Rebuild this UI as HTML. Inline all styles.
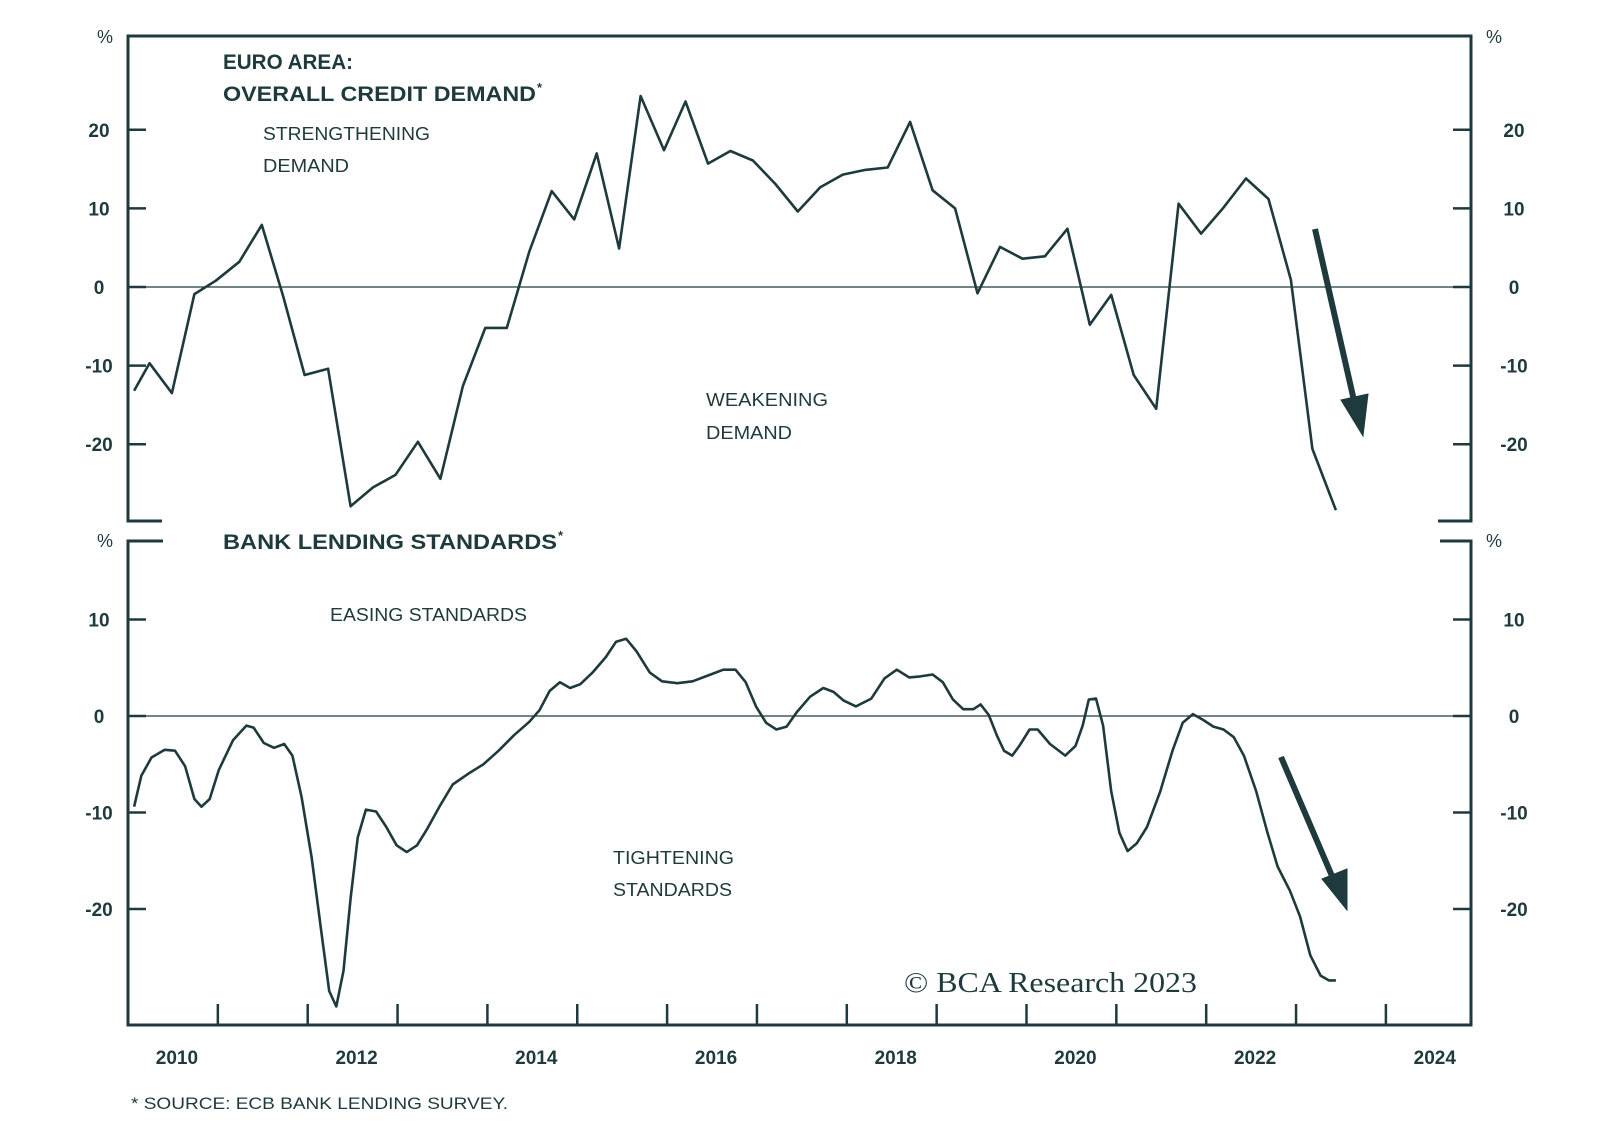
<!DOCTYPE html>
<html><head><meta charset="utf-8"><style>
html,body{margin:0;padding:0;background:#fff;}
svg{display:block;}
text{font-family:"Liberation Sans",sans-serif;fill:#1e3a3c;}
</style></head><body>
<svg id="chart" width="1600" height="1146" viewBox="0 0 1600 1146" xmlns="http://www.w3.org/2000/svg">
<g id="frame" stroke="#1e3a3c" stroke-width="3" fill="none">
  <path d="M162 521 H128 V36 H1471 V521 H1438"/>
  <path d="M163 541 H128 V1025 H1471 V541 H1440"/>
</g>
<g id="ticks" stroke="#1e3a3c" stroke-width="2.5"></g>
<g id="labels"></g>
<g id="series"></g>

<g font-weight="bold">
<text x="223" y="69" font-size="21" textLength="130" lengthAdjust="spacingAndGlyphs">EURO AREA:</text>
<text x="223" y="101" font-size="21" textLength="313" lengthAdjust="spacingAndGlyphs">OVERALL CREDIT DEMAND</text>
<text x="537" y="92" font-size="13">*</text>
<text x="263" y="140" font-size="18" font-weight="normal" textLength="167" lengthAdjust="spacingAndGlyphs">STRENGTHENING</text>
<text x="263" y="172" font-size="18" font-weight="normal" textLength="86" lengthAdjust="spacingAndGlyphs">DEMAND</text>
<text x="706" y="406" font-size="18" font-weight="normal" textLength="122" lengthAdjust="spacingAndGlyphs">WEAKENING</text>
<text x="706" y="439" font-size="18" font-weight="normal" textLength="86" lengthAdjust="spacingAndGlyphs">DEMAND</text>
<text x="223" y="549" font-size="21" textLength="334" lengthAdjust="spacingAndGlyphs">BANK LENDING STANDARDS</text>
<text x="558" y="540" font-size="13">*</text>
<text x="330" y="621" font-size="18" font-weight="normal" textLength="197" lengthAdjust="spacingAndGlyphs">EASING STANDARDS</text>
<text x="613" y="864" font-size="18" font-weight="normal" textLength="121" lengthAdjust="spacingAndGlyphs">TIGHTENING</text>
<text x="613" y="896" font-size="18" font-weight="normal" textLength="119" lengthAdjust="spacingAndGlyphs">STANDARDS</text>
<text x="131" y="1109" font-size="17" font-weight="normal" textLength="377" lengthAdjust="spacingAndGlyphs">* SOURCE: ECB BANK LENDING SURVEY.</text>
<text x="904" y="992" font-size="28" font-weight="normal" style="font-family:'Liberation Serif',serif" textLength="293" lengthAdjust="spacingAndGlyphs">© BCA Research 2023</text>
</g>
<g fill="#1e3a3c" stroke="#1e3a3c">
  <line x1="1315" y1="229" x2="1355" y2="405" stroke-width="6"/>
  <polygon points="1363,436 1341,400 1368,394"/>
  <line x1="1281" y1="757" x2="1335" y2="883" stroke-width="6"/>
  <polygon points="1347,910 1322,879 1347,869"/>
</g>
</svg>
<script>
const topDates=[2010.068,2010.239,2010.489,2010.739,2010.977,2011.239,2011.489,2011.727,2011.966,2012.227,2012.477,2012.727,2012.977,2013.227,2013.477,2013.727,2013.977,2014.216,2014.466,2014.716,2014.966,2015.216,2015.466,2015.705,2015.966,2016.205,2016.455,2016.705,2016.955,2017.205,2017.455,2017.705,2017.955,2018.205,2018.455,2018.705,2018.955,2019.205,2019.455,2019.705,2019.955,2020.205,2020.455,2020.705,2020.943,2021.193,2021.443,2021.693,2021.943,2022.193,2022.443,2022.693,2022.943,2023.182,2023.443];
const topValues=[-13.2,-9.7,-13.5,-0.9,0.8,3.2,7.9,-1.2,-11.2,-10.4,-27.9,-25.5,-23.9,-19.7,-24.4,-12.6,-5.2,-5.2,4.5,12.2,8.6,17.0,4.9,24.3,17.4,23.6,15.7,17.3,16.1,13.1,9.6,12.7,14.3,14.9,15.2,21.0,12.3,10.0,-0.8,5.1,3.6,3.9,7.4,-4.8,-1.0,-11.2,-15.5,10.6,6.8,10.1,13.8,11.2,0.9,-20.6,-28.4];
const botDates=[2010.068,2010.148,2010.261,2010.409,2010.523,2010.636,2010.739,2010.818,2010.909,2011.011,2011.170,2011.318,2011.398,2011.511,2011.625,2011.739,2011.830,2011.932,2012.045,2012.148,2012.239,2012.318,2012.398,2012.477,2012.557,2012.648,2012.761,2012.875,2012.989,2013.102,2013.216,2013.330,2013.466,2013.614,2013.784,2013.955,2014.125,2014.295,2014.466,2014.580,2014.693,2014.807,2014.920,2015.034,2015.170,2015.318,2015.432,2015.545,2015.659,2015.807,2015.943,2016.114,2016.284,2016.455,2016.625,2016.761,2016.875,2016.989,2017.102,2017.216,2017.330,2017.443,2017.591,2017.739,2017.852,2017.966,2018.102,2018.273,2018.420,2018.557,2018.693,2018.818,2018.955,2019.068,2019.182,2019.295,2019.409,2019.489,2019.580,2019.670,2019.750,2019.841,2019.920,2020.034,2020.125,2020.261,2020.432,2020.545,2020.625,2020.693,2020.773,2020.852,2020.943,2021.034,2021.125,2021.227,2021.341,2021.489,2021.625,2021.739,2021.852,2021.966,2022.080,2022.193,2022.307,2022.420,2022.557,2022.682,2022.795,2022.932,2023.045,2023.159,2023.273,2023.364,2023.443];
const botValues=[-9.4,-6.2,-4.3,-3.5,-3.6,-5.2,-8.6,-9.4,-8.6,-5.6,-2.5,-1.0,-1.2,-2.8,-3.3,-2.9,-4.1,-8.4,-14.7,-22.1,-28.5,-30.1,-26.4,-18.9,-12.6,-9.7,-9.9,-11.5,-13.4,-14.1,-13.4,-11.7,-9.4,-7.1,-6.0,-5.0,-3.6,-2.0,-0.6,0.6,2.6,3.5,2.9,3.3,4.5,6.1,7.7,8.0,6.7,4.5,3.6,3.4,3.6,4.2,4.8,4.8,3.5,1.0,-0.7,-1.4,-1.1,0.4,2.0,2.9,2.5,1.6,1.0,1.8,3.9,4.8,4.0,4.1,4.3,3.5,1.7,0.7,0.7,1.2,0.1,-2.0,-3.6,-4.1,-3.1,-1.4,-1.4,-2.9,-4.1,-3.1,-1.0,1.7,1.8,-1.0,-7.8,-12.1,-14.0,-13.2,-11.5,-7.8,-3.6,-0.7,0.2,-0.4,-1.1,-1.4,-2.2,-4.1,-7.8,-12.1,-15.6,-18.1,-20.8,-24.8,-26.9,-27.4,-27.4];
const xYears=[2010,2012,2014,2016,2018,2020,2022,2024];
const topTicks=[20,10,0,-10,-20];
const botTicks=[10,0,-10,-20];

const NS="http://www.w3.org/2000/svg";
const X0=128,PXY=89.85;
const xs=t=>X0+(t-2010)*PXY;
const yTop=v=>287-v*7.86;
const yBot=v=>716-v*9.65;
function mk(tag,attrs,parent){const e=document.createElementNS(NS,tag);for(const k in attrs)e.setAttribute(k,attrs[k]);parent.appendChild(e);return e;}
const tg=document.getElementById('ticks'),lg=document.getElementById('labels'),sg=document.getElementById('series');

for(let y=2011;y<=2024;y++){
  const l=mk('line',{x1:xs(y),x2:xs(y),y1:1025,y2:1004},tg);
  
  
}
xYears.forEach(y=>{
  const t=mk('text',{x:xs(y+0.5)+4,y:1064,'text-anchor':'middle','font-size':19,'font-weight':'bold'},lg);
  t.textContent=y;
  
  
});
function yAxis(ticks,fy,pct){
  ticks.forEach(v=>{
    const y=fy(v);
    const a=mk('line',{x1:128,x2:146,y1:y,y2:y},tg);
    
    
    const b=mk('line',{x1:1453,x2:1471,y1:y,y2:y},tg);
    
    
    const tl=mk('text',{x:99,y:y+7,'text-anchor':'middle','font-size':19,'font-weight':'bold'},lg);
    tl.textContent=v;
    
    
    const tr=mk('text',{x:1514,y:y+7,'text-anchor':'middle','font-size':19,'font-weight':'bold'},lg);
    tr.textContent=v;
    
    
  });
  [105,1494].forEach(x=>{
    const p=mk('text',{x:x,y:pct+6,'text-anchor':'middle','font-size':18},lg);
    p.textContent='%';
    
    
  });
  const z=mk('line',{x1:128,x2:1471,y1:fy(0),y2:fy(0),stroke:'#1e3a3c','stroke-width':1.3},tg);
  
  
}
yAxis(topTicks,yTop,37);
yAxis(botTicks,yBot,541);

function line(dates,vals,fy,name){
  const d=dates.map((t,i)=>(i?'L':'M')+xs(t).toFixed(1)+' '+fy(vals[i]).toFixed(1)).join(' ');
  const p=mk('path',{d:d,fill:'none',stroke:'#1e3a3c','stroke-width':2.6,'stroke-linejoin':'round'},sg);
  
  
}
line(topDates,topValues,yTop,'credit-demand-line');
line(botDates,botValues,yBot,'lending-standards-line');
</script>
</body></html>
